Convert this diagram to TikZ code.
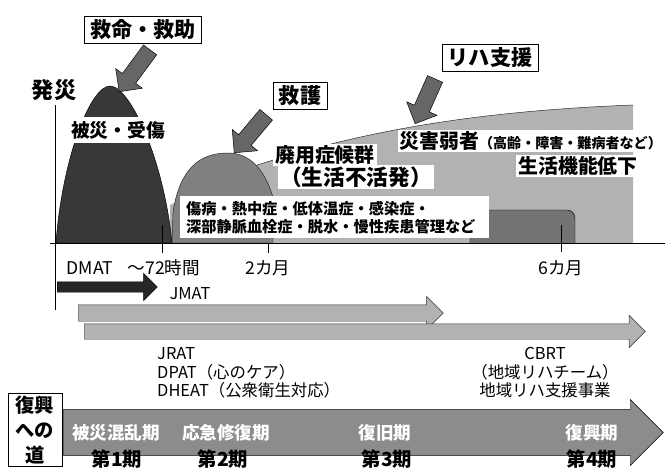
\documentclass[tikz,border=0pt]{standalone}
\usepackage{fontspec}
\setmainfont{Noto Sans CJK JP}
\usetikzlibrary{shapes.arrows, positioning}

\newcommand{\fsz}[2]{\fontsize{#1}{#2}\selectfont}

\begin{document}
\begin{tikzpicture}[
        x=0.03cm, y=-0.03cm,
        callout/.style={rectangle, draw, thin, fill=white, inner xsep=5pt, inner ysep=3pt,
                        font=\fsz{18}{20}\bfseries},
        pointer/.style={single arrow, draw=black, fill=black!60, thin, inner xsep=0pt,
                        inner ysep=0.24cm, minimum width=0.88cm, anchor=tip},
        band/.style={single arrow, draw=black!80, fill=black!30, thin, inner xsep=0pt,
                     anchor=tail},
        note/.style={fill=white, inner xsep=2pt, inner ysep=1pt},
        axislabel/.style={font=\fsz{15}{17}},
        phase/.style={text=white, font=\fsz{15}{17}\bfseries},
        stage/.style={font=\fsz{16.5}{19}\bfseries}
    ]
    \useasboundingbox (0,0) rectangle (665,470);
    \clip (0,0) rectangle (665,470);
    \fill[white] (0,0) rectangle (665,470);

    % gray areas
    \fill[black!30] (170,243) -- (170,205) -- (248,168)
        .. controls (340,138) and (450,112) .. (633,105) -- (633,243) -- cycle;
    \draw[black!85] (248,168) .. controls (340,138) and (450,112) .. (633,105);
    \filldraw[fill=black!55, draw=black] (575,243) -- (575,218) [rounded corners=7pt]
        -- (575,210) -- (470,210) [sharp corners] -- (470,243);
    \filldraw[fill=black!50, draw=black!85] (172,243) -- (173,212)
        .. controls (180,168) and (200,153) .. (228,153)
        .. controls (252,153) and (265,172) .. (273,197) -- (273,243) -- cycle;
    \filldraw[fill=black!78, draw=black] (56,243) .. controls (62,160) and (90,86) .. (110,86)
        .. controls (130,86) and (164,160) .. (172,243) -- cycle;

    \node[fill=white, inner xsep=3pt, minimum height=0.78cm, font=\fsz{16}{18}\bfseries] (injury) at (118,130) {被災・受傷};
    \node[note, font=\fsz{17}{19}\bfseries] (disuse) at (325,155) {廃用症候群};
    \node[note, font=\fsz{18.5}{20}\bfseries] (inactive) at (356,177) {（生活不活発）};
    \node[note, anchor=west, inner xsep=1pt] (vulnerable) at (398,141)
        {\bfseries\fsz{17}{19}災害弱者\fsz{12}{14}（高齢・障害・難病者など）};
    \node[note, font=\fsz{17}{19}\bfseries] (decline) at (578,166) {生活機能低下};
    \node[fill=white, anchor=north west, align=left, text width=8.9cm, inner xsep=5pt,
          inner ysep=4pt, font=\fsz{13}{15.5}\bfseries] (illness) at (180,196)
        {傷病・熱中症・低体温症・感染症・\\深部静脈血栓症・脱水・慢性疾患管理など};

    % time axis
    \node[font=\fsz{19}{21}\bfseries] (onset) at (54,90) {発災};
    \draw (55,105) -- (55,310);
    \draw (50,243) -- (665,243);
    \draw (162,225) -- (162,253);
    \draw (268,243) -- (268,253);
    \draw (561,225) -- (561,252);
    \node[axislabel] (dmat) at (90,268) {DMAT};
    \node[axislabel] (hours) at (164,268) {〜72時間};
    \node[axislabel] (month2) at (268,268) {2カ月};
    \node[axislabel] (month6) at (561,268) {6カ月};

    % teams
    \node[band, fill=black!85, draw=black, minimum height=3cm, inner ysep=0.15cm,
          minimum width=0.72cm] (dmatbar) at (57,287) {};
    \node[font=\fsz{14}{16}] (jmat) at (190,294) {JMAT};
    \node[band, minimum height=10.95cm, inner ysep=0.24cm,
          minimum width=0.84cm] (jmatbar) at (78,313) {};
    \node[band, minimum height=16.83cm, inner ysep=0.225cm,
          minimum width=0.93cm] (teambar) at (84,331.5) {};
    \node[font=\fsz{14}{15.8}, anchor=west, align=left, inner xsep=0pt] (japan) at (157,373)
        {JRAT\\DPAT（心のケア）\\DHEAT（公衆衛生対応）};
    \node[font=\fsz{14}{15.8}, align=center] (cbrt) at (545,373)
        {CBRT\\（地域リハチーム）\\地域リハ支援事業};

    % road to recovery
    \node[band, fill=black!45, draw=black, minimum height=18cm, inner ysep=0.555cm,
          minimum width=1.98cm] (road) at (63,432.5) {};
    \node[phase] (chaos) at (116,433) {被災混乱期};
    \node[phase] (repair) at (226,433) {応急修復期};
    \node[phase] (restore) at (385,433) {復旧期};
    \node[phase] (revive) at (592,433) {復興期};
    \node[stage] (stage1) at (117,459) {第1期};
    \node[stage] (stage2) at (223,459) {第2期};
    \node[stage] (stage3) at (387,459) {第3期};
    \node[stage] (stage4) at (592,459) {第4期};
    \node[draw, thin, fill=white, anchor=north, minimum width=1.62cm, align=center,
          inner ysep=2pt, font=\fsz{16.5}{21.5}\bfseries] (roadbox) at (35,393) {復興\\への\\道};

    % support
    \node[callout] (rescue) at (143,30) {救命・救助};
    \node[callout] (aid) at (300,96) {救護};
    \node[callout] (rehab) at (490,58) {リハ支援};
    \node[pointer, minimum height=1.56cm, rotate=233.6] (rescuearrow) at (119,92) {};
    \node[pointer, minimum height=1.49cm, rotate=229.9] (aidarrow) at (234,153) {};
    \node[pointer, minimum height=1.47cm, rotate=246] (rehabarrow) at (415,124) {};
\end{tikzpicture}
\end{document}
